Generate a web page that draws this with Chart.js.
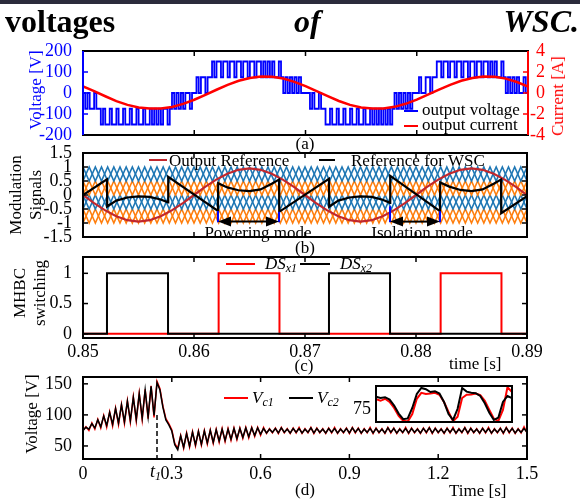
<!DOCTYPE html>
<html>
<head>
<meta charset="utf-8">
<script src="https://cdn.jsdelivr.net/npm/chart.js@4.4.1/dist/chart.umd.min.js"></script>
<style>
  html, body { margin: 0; padding: 0; background: #fff; }
  #page { position: relative; width: 580px; height: 500px; overflow: hidden;
          font-family: "Liberation Serif", "Times New Roman", serif; font-size: 17px; color: #000; }
  #page canvas { position: absolute; left: 0; top: 0; }
  .bar { position: absolute; left: 0; top: 0; width: 580px; height: 4px; background: #2b2b3c; }
  .t { position: absolute; white-space: nowrap; line-height: 1; }
  .c { position: absolute; white-space: nowrap; line-height: 1; transform: translate(-50%, -50%); }
  .l { position: absolute; white-space: nowrap; line-height: 1; transform: translate(0, -50%); }
  .r { position: absolute; white-space: nowrap; line-height: 1; transform: translate(-100%, -50%); }
  .rot { position: absolute; white-space: nowrap; line-height: 20px; text-align: center;
         transform: translate(-50%, -50%) rotate(-90deg); }
  .ln { position: absolute; height: 2px; }
  sub { font-size: 12px; vertical-align: -3px; }
</style>
</head>
<body>
<div id="page">
  <div class="bar"></div>
  <canvas id="pa" width="580" height="500"></canvas>
  <canvas id="pb" width="580" height="500"></canvas>
  <canvas id="pc" width="580" height="500"></canvas>
  <canvas id="pd" width="580" height="500"></canvas>
  <canvas id="pz" width="580" height="500"></canvas>

  <div class="t" style="left:5px;top:5px;font-weight:bold;font-size:32px">voltages</div>
  <div class="t" style="left:294px;top:5px;font-weight:bold;font-style:italic;font-size:32px">of</div>
  <div class="t" style="right:1px;top:5px;font-weight:bold;font-style:italic;font-size:32px">WSC.</div>

  <!-- (a) -->
  <div class="rot" style="left:36px;top:90px;color:#0000ff">Voltage [V]</div>
  <div class="rot" style="left:558px;top:96px;color:#ff0000">Current [A]</div>
  <div class="ln" style="left:404px;top:110px;width:14px;background:#0000ff"></div>
  <div class="l" style="left:422px;top:109px">output voltage</div>
  <div class="ln" style="left:404px;top:125px;width:14px;background:#ff0000"></div>
  <div class="l" style="left:422px;top:124px">output current</div>
  <div class="c" style="left:305px;top:143px">(a)</div>

  <!-- (b) -->
  <div class="rot" style="left:26px;top:195px">Modulation<br>Signals</div>
  <div class="ln" style="left:149px;top:159px;width:18px;background:#c1272d"></div>
  <div class="l" style="left:169px;top:160px">Output Reference</div>
  <div class="ln" style="left:319px;top:159px;width:16px;background:#000"></div>
  <div class="l" style="left:351px;top:160px">Reference for WSC</div>
  <div class="c" style="left:258px;top:232px">Powering mode</div>
  <div class="c" style="left:422px;top:232px">Isolation mode</div>
  <div class="c" style="left:305px;top:247px">(b)</div>

  <!-- (c) -->
  <div class="rot" style="left:30px;top:293px">MHBC<br>switching</div>
  <div class="ln" style="left:226px;top:263px;width:29px;background:#ff0000"></div>
  <div class="l" style="left:265px;top:264px;font-style:italic">DS<sub>x1</sub></div>
  <div class="ln" style="left:300px;top:263px;width:30px;background:#000"></div>
  <div class="l" style="left:340px;top:264px;font-style:italic">DS<sub>x2</sub></div>
  <div class="c" style="left:304px;top:365px">(c)</div>
  <div class="l" style="left:449px;top:363px">time [s]</div>

  <!-- (d) -->
  <div class="rot" style="left:32px;top:414px">Voltage [V]</div>
  <div class="ln" style="left:224px;top:397px;width:24px;background:#ff0000"></div>
  <div class="l" style="left:252px;top:398px;font-style:italic">V<sub>c1</sub></div>
  <div class="ln" style="left:289px;top:397px;width:24px;background:#000"></div>
  <div class="l" style="left:317px;top:398px;font-style:italic">V<sub>c2</sub></div>
  <div class="r" style="left:371px;top:408px;font-size:18px">75</div>
  <div class="l" style="left:150px;top:472px;font-style:italic;font-size:18px">t<sub>1</sub></div>
  <div class="c" style="left:305px;top:489px">(d)</div>
  <div class="l" style="left:449px;top:490px">Time [s]</div>
</div>

<script>
// ---------- shared time axis of panels (a)-(c) ----------
const timeTicks = [0.85, 0.86, 0.87, 0.88, 0.89];
const timeTickLabels = ['0.85', '0.86', '0.87', '0.88', '0.89'];

// ---------- (a) output voltage / current ----------
const voltageStep = 0.0002;   // s between voltage samples
const outputVoltage = [
  0,-75,0,-75,-75,0,-75,-75,
  -150,-75,-150,-150,-75,-150,-150,-75,-150,-150,
  -75,-150,-150,-75,-150,-150,-75,-150,-150,-75,
  -150,-150,-75,-150,-75,-150,-75,-150,-75,-75,
  -150,-75,
  0,-75,0,-75,0,-75,0,0,-75,0,
  0,75,0,75,75,0,75,75,
  150,75,150,150,75,150,150,75,150,150,
  75,150,150,75,150,150,75,150,150,75,
  150,150,75,150,75,150,75,150,75,75,
  150,75,
  0,75,0,75,0,75,0,75,0,0,
  0,0,-75,0,-75,-75,0,-75,
  -75,-150,-150,-75,-150,-150,-75,-150,-150,-75,
  -150,-150,-75,-150,-150,-75,-150,-150,-75,-150,
  -150,-75,-150,-75,-150,-75,-150,-75,-150,-75,
  -150,-75,
  0,-75,0,-75,0,-75,0,-75,0,0,
  0,75,0,0,75,75,0,75,
  75,150,150,75,150,150,75,150,150,75,
  150,150,75,150,150,75,150,150,75,150,
  150,75,150,150,75,150,75,150,75,75,
  150,75,
  0,75,0,75,0,75,0,0,75,0,
  0
];
const currentStep = 0.001;
const outputCurrent = [0.64,0.17,-0.31,-0.77,-1.13,-1.38,-1.48,-1.47,-1.33,-1.04,-0.64,-0.17,
  0.31,0.78,1.16,1.43,1.56,1.55,1.38,1.06,0.65,0.18,-0.30,-0.76,-1.13,-1.38,-1.48,-1.47,
  -1.32,-1.03,-0.63,-0.16,0.32,0.78,1.16,1.43,1.56,1.54,1.37,1.05,0.62];
const voltageTicks = [-200, -100, 0, 100, 200];
const currentTicks = [-4, -2, 0, 2, 4];

// ---------- (b) modulation signals ----------
const refStep = 0.001;
const outputReference = [0,-0.29,-0.55,-0.76,-0.9,-0.95,-0.9,-0.76,-0.55,-0.29,
  0,0.29,0.55,0.76,0.9,0.95,0.9,0.76,0.55,0.29,
  0,-0.29,-0.55,-0.76,-0.9,-0.95,-0.9,-0.76,-0.55,-0.29,
  0,0.29,0.55,0.76,0.9,0.95,0.9,0.76,0.55,0.29,0];
const wscTime = [0.85,0.85216,0.85218,0.8530,0.8540,0.8550,0.8560,0.8570,0.85766,0.85768,
  0.86216,0.86218,0.8630,0.8640,0.8650,0.8660,0.8670,0.86766,0.86768,0.87216,0.87218,
  0.8730,0.8740,0.8750,0.8760,0.8770,0.87766,0.87768,0.88216,0.88218,0.8830,0.8840,
  0.8850,0.8860,0.8870,0.88766,0.88768,0.89];
const wscReference = [0,0.56,-0.41,-0.2,-0.09,-0.05,-0.07,-0.16,-0.26,0.65,
  -0.57,0.42,0.27,0.17,0.14,0.2,0.4,0.55,-0.6,0.58,-0.42,
  -0.2,-0.09,-0.05,-0.07,-0.17,-0.28,0.68,-0.58,0.45,0.3,0.18,
  0.14,0.2,0.4,0.55,-0.65,-0.04];
const carrierStep = 0.04 / 72;
const carrierRise = [0,1,0,1,0,1,0,1,0,1,0,1,0,1,0,1,0,1,0,1,0,1,0,1,0,1,0,1,0,1,0,1,0,1,0,1,
  0,1,0,1,0,1,0,1,0,1,0,1,0,1,0,1,0,1,0,1,0,1,0,1,0,1,0,1,0,1,0,1,0,1,0,1,0];
const carrierFall = [1,0,1,0,1,0,1,0,1,0,1,0,1,0,1,0,1,0,1,0,1,0,1,0,1,0,1,0,1,0,1,0,1,0,1,0,
  1,0,1,0,1,0,1,0,1,0,1,0,1,0,1,0,1,0,1,0,1,0,1,0,1,0,1,0,1,0,1,0,1,0,1,0,1];
const carrierBase = [0.5, 0, -0.5, -1];
const carrierAmp = 0.5;
const carrierColors = ['#1f77b4', '#ff7f0e', '#1f77b4', '#ff7f0e'];
const modeEdges = [0.86216, 0.86766, 0.87766, 0.88216];
const modeEdgeTop = [-0.57, -0.6, -0.4, -0.58];
const modeEdgeBottom = -0.97;
const modeArrowLevel = -0.95;
const modTicks = [-1.5, -1, -0.5, 0, 0.5, 1, 1.5];

// ---------- (c) MHBC switching ----------
const ds1Edges = [0.85, 0.86222, 0.8677, 0.88222, 0.8877, 0.89];
const ds1Level = [0, 1, 0, 1, 0, 0];
const ds2Edges = [0.85, 0.85216, 0.85766, 0.87216, 0.87766, 0.89];
const ds2Level = [0, 1, 0, 1, 0, 0];
const switchTicks = [0, 0.5, 1];

// ---------- (d) capacitor voltages ----------
const vcStep = 0.01;
const vc1 = [75,81,75,87,77,93,79,99,80,105,82,111,84,117,86,123,88,129,90,135,92,141,94,147,96,154,
  142,114,94,86,76,54,46,
  67,46,71,48,73,50,74,51,75,53,76,54,77,56,78,57,78,59,79,60,79,62,80,63,80,65,80,67,
  80,70,78,71,79,70,80,71,78,70,79,71,80,70,78,71,80,70,79,71,78,70,79,71,80,70,78,71,79,70,
  80,71,79,70,78,71,80,70,79,71,78,70,80,71,79,70,78,71,80,70,79,71,78,70,79,71,80,70,79,71,
  78,70,79,71,80,70,78,71,80,70,79,71,78,70,79,71,80,70,78,71,79,70,80,71,79,70,78,71,81,71];
const vc2 = [75,80,77,86,79,92,81,98,83,104,85,110,87,116,89,122,91,128,93,134,95,140,97,146,99,152,
  140,112,92,84,74,52,44,
  66,48,70,50,72,52,73,53,74,55,75,56,76,58,77,59,77,61,78,62,78,64,79,65,79,67,79,69,
  78,71,77,72,78,71,79,72,77,71,78,72,78,71,77,72,79,71,78,72,77,71,78,72,78,71,77,72,78,71,
  79,72,78,71,77,72,78,71,78,72,77,71,79,72,78,71,77,72,78,71,78,72,77,71,78,72,79,71,78,72,
  77,71,78,72,78,71,77,72,79,71,78,72,77,71,78,72,78,71,77,72,78,71,79,72,78,71,77,72,78,72];
const t1 = 0.25;
const t1LineTop = 100;
const vcTimeTicks = [0, 0.3, 0.6, 0.9, 1.2, 1.5];
const vcTimeLabels = ['0', '0.3', '0.6', '0.9', '1.2', '1.5'];
const vcTicks = [50, 100, 150];

// ---------- (d) inset, steady state close-up ----------
const zoomStep = 2;   // ms
const zoomVc1 = [77.2,76.8,77.3,76.5,75,73,71.8,71.6,73.5,77.3,78.8,78.5,78.6,78.8,78.3,76.5,
  74,71.7,72.8,77.5,78.3,78.4,78.6,78.2,76.8,74.5,72.3,71.8,74.5,80.2,79];
const zoomVc2 = [77.8,77.5,77.7,77.1,75.6,73.6,72.2,72.4,75,78.5,80,79.7,79,79.2,78.6,76.5,
  73.5,72,74.8,80,79.1,78.8,78.7,78,76.2,73.8,72,72.6,76.5,78,77.5];

// ---------- helpers ----------
const tickFont = { family: 'Liberation Serif', size: 18 };
const X_AXIS_HEIGHT = 30;

function series(t0, step, values) {
  return values.map((v, i) => ({ x: t0 + i * step, y: v }));
}
function pairs(xs, ys) {
  return xs.map((x, i) => ({ x: x, y: ys[i] }));
}
function trace(data, color, width, extra) {
  return Object.assign({ data: data, borderColor: color, borderWidth: width,
    pointRadius: 0, fill: false, tension: 0 }, extra || {});
}

function xAxis(min, max, ticks, labels, show, pad) {
  return {
    type: 'linear', position: 'bottom', min: min, max: max,
    afterFit: s => { s.height = X_AXIS_HEIGHT; },
    afterBuildTicks: s => { s.ticks = ticks.map(v => ({ value: v })); },
    grid: { display: false }, border: { display: false },
    ticks: { display: show, autoSkip: false, maxRotation: 0, padding: pad || 0,
      color: '#000', font: tickFont, callback: (v, i) => labels ? labels[i] : '' }
  };
}
// width: room the axis keeps for its tick labels
function yAxis(pos, min, max, ticks, color, width, show) {
  return {
    type: 'linear', position: pos, min: min, max: max,
    afterFit: s => { s.width = width; },
    afterBuildTicks: s => { s.ticks = ticks.map(v => ({ value: v })); },
    grid: { display: false }, border: { display: false },
    ticks: { display: show !== false, autoSkip: false, padding: 3,
      crossAlign: pos === 'left' ? 'near' : 'far',
      color: color, font: tickFont, callback: v => String(v) }
  };
}

// box round the plot with MATLAB style inward ticks
const framePlugin = {
  id: 'frame',
  beforeDatasetsDraw(chart, args, o) {
    if (!o.fill) return;
    const a = chart.chartArea;
    chart.ctx.save();
    chart.ctx.fillStyle = o.fill;
    chart.ctx.fillRect(a.left, a.top, a.right - a.left, a.bottom - a.top);
    chart.ctx.restore();
  },
  afterDatasetsDraw(chart, args, o) {
    const ctx = chart.ctx, a = chart.chartArea, sc = chart.scales;
    const len = o.tick || 0;
    const seg = (x1, y1, x2, y2, c) => {
      ctx.strokeStyle = c; ctx.beginPath(); ctx.moveTo(x1, y1); ctx.lineTo(x2, y2); ctx.stroke();
    };
    ctx.save();
    ctx.lineWidth = 1.5;
    if (len) {
      sc.x.ticks.forEach(t => {
        const px = sc.x.getPixelForValue(t.value);
        if (px < a.left + 2 || px > a.right - 2) return;
        seg(px, a.bottom, px, a.bottom - len, '#000');
        seg(px, a.top, px, a.top + len, '#000');
      });
      const yl = sc.y, yr = sc.y2 || sc.y;
      yl.ticks.forEach(t => {
        const py = yl.getPixelForValue(t.value);
        if (py < a.top + 2 || py > a.bottom - 2) return;
        seg(a.left, py, a.left + len, py, o.left || '#000');
        if (!sc.y2) seg(a.right, py, a.right - len, py, o.right || '#000');
      });
      if (sc.y2) yr.ticks.forEach(t => {
        const py = yr.getPixelForValue(t.value);
        if (py < a.top + 2 || py > a.bottom - 2) return;
        seg(a.right, py, a.right - len, py, o.right || '#000');
      });
    }
    ctx.lineWidth = 2;
    seg(a.left - 1, a.top, a.right + 1, a.top, '#000');
    seg(a.left - 1, a.bottom, a.right + 1, a.bottom, '#000');
    seg(a.left, a.top, a.left, a.bottom, o.left || '#000');
    seg(a.right, a.top, a.right, a.bottom, o.right || '#000');
    ctx.restore();
  }
};

// double headed arrows marking the MHBC modes in (b)
const arrowPlugin = {
  id: 'modeArrows',
  afterDatasetsDraw(chart, args, o) {
    if (!o.pairs) return;
    const ctx = chart.ctx, x = chart.scales.x, y = chart.scales.y;
    const py = y.getPixelForValue(o.level);
    const head = (px, dir) => {
      ctx.beginPath(); ctx.moveTo(px, py);
      ctx.lineTo(px + dir * 13, py - 5); ctx.lineTo(px + dir * 13, py + 5);
      ctx.closePath(); ctx.fill();
    };
    ctx.save();
    ctx.fillStyle = '#000'; ctx.strokeStyle = '#000'; ctx.lineWidth = 2;
    o.pairs.forEach(p => {
      const xa = x.getPixelForValue(p[0]), xb = x.getPixelForValue(p[1]);
      ctx.beginPath(); ctx.moveTo(xa + 10, py); ctx.lineTo(xb - 10, py); ctx.stroke();
      head(xa, 1); head(xb, -1);
    });
    ctx.restore();
  }
};

// box: plot area edges in page pixels; the axes take the margins round it
function panel(id, box, scales, datasets, frame, extra, rightLabelEdge) {
  const plugins = { legend: { display: false }, tooltip: { enabled: false }, frame: frame };
  Object.assign(plugins, extra || {});
  return new Chart(document.getElementById(id), {
    type: 'line',
    data: { datasets: datasets },
    options: {
      responsive: false, animation: false, events: [], devicePixelRatio: 1,
      layout: { padding: { left: 0, top: box.t,
                           right: 580 - (rightLabelEdge || box.r),
                           bottom: 500 - box.b - X_AXIS_HEIGHT } },
      plugins: plugins,
      scales: scales
    },
    plugins: [framePlugin, arrowPlugin]
  });
}

// ---------- (a) ----------
panel('pa', { l: 83, r: 528, t: 51, b: 135 }, {
  x: xAxis(0.85, 0.89, timeTicks, null, false),
  y: yAxis('left', -200, 200, voltageTicks, '#0000ff', 83),
  y2: yAxis('right', -4, 4, currentTicks, '#ff0000', 17)
}, [
  trace(series(0.85, currentStep, outputCurrent), '#ff0000', 2.5, { yAxisID: 'y2', order: 0 }),
  trace(series(0.85, voltageStep, outputVoltage), '#0000ff', 1.8, { yAxisID: 'y', stepped: 'before', order: 1 })
], { tick: 5, left: '#0000ff', right: '#ff0000' }, null, 545);

// ---------- (b) ----------
const carrierSets = [];
carrierBase.forEach((base, k) => {
  [carrierRise, carrierFall].forEach(shape => {
    carrierSets.push(trace(series(0.85, carrierStep, shape.map(s => base + carrierAmp * s)),
      carrierColors[k], 1.6, { order: 5 }));
  });
});
const modeSets = modeEdges.map((e, i) =>
  trace([{ x: e, y: modeEdgeTop[i] }, { x: e, y: modeEdgeBottom }], '#0000ff', 2, { order: 0 }));
panel('pb', { l: 83, r: 527, t: 153, b: 237 }, {
  x: xAxis(0.85, 0.89, timeTicks, null, false),
  y: yAxis('left', -1.5, 1.5, modTicks, '#000', 83)
}, carrierSets.concat([
  trace(series(0.85, refStep, outputReference), '#c1272d', 2.2, { order: 2 }),
  trace(pairs(wscTime, wscReference), '#000', 2.2, { order: 1 })
]).concat(modeSets), { tick: 5 }, {
  modeArrows: { level: modeArrowLevel, pairs: [[modeEdges[0], modeEdges[1]], [modeEdges[2], modeEdges[3]]] }
});

// ---------- (c) ----------
panel('pc', { l: 83, r: 527, t: 257, b: 338 }, {
  x: xAxis(0.85, 0.89, timeTicks, timeTickLabels, true, -5),
  y: yAxis('left', -0.07, 1.27, switchTicks, '#000', 83)
}, [
  trace(pairs(ds2Edges, ds2Level), '#000', 2, { stepped: 'before', order: 0 }),
  trace(pairs(ds1Edges, ds1Level), '#ff0000', 2, { stepped: 'before', order: 1 })
], { tick: 5 });

// ---------- (d) ----------
panel('pd', { l: 83, r: 527, t: 377, b: 459 }, {
  x: xAxis(0, 1.5, vcTimeTicks, vcTimeLabels, true, -4),
  y: yAxis('left', 29, 161, vcTicks, '#000', 83)
}, [
  trace([{ x: t1, y: t1LineTop }, { x: t1, y: 29 }], '#000', 1.5, { borderDash: [5, 3], order: 0 }),
  trace(series(0, vcStep, vc2), '#000', 1.5, { order: 1 }),
  trace(series(0, vcStep, vc1), '#ff0000', 1.5, { order: 2 })
], { tick: 5 });

// inset
panel('pz', { l: 376, r: 512, t: 386, b: 422 }, {
  x: xAxis(0, 60, [], null, false),
  y: yAxis('left', 71.5, 80.5, [], '#000', 376, false)
}, [
  trace(series(0, zoomStep, zoomVc2), '#000', 2, { order: 0 }),
  trace(series(0, zoomStep, zoomVc1), '#ff0000', 2, { order: 1 })
], { tick: 0, fill: '#fff' });
</script>
</body>
</html>
